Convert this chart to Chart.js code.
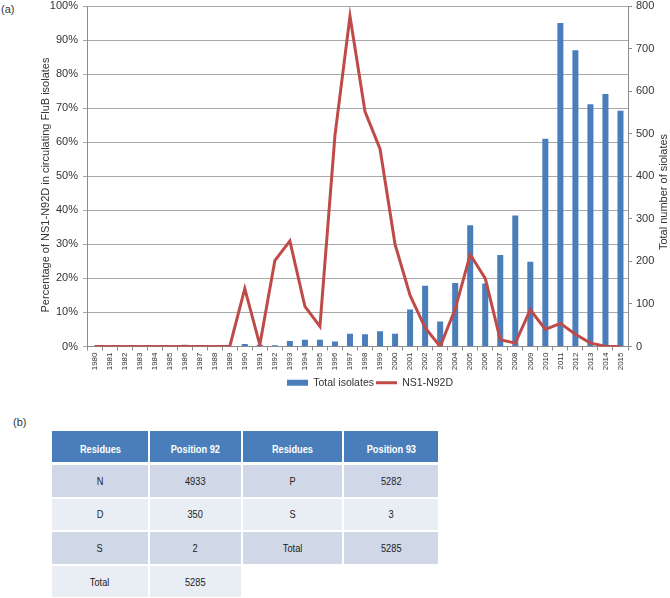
<!DOCTYPE html>
<html lang="en">
<head>
    <meta charset="UTF-8">
    <title>NS1-N92D in circulating FluB isolates</title>
    <script src="https://cdn.jsdelivr.net/npm/chart.js"></script>
    <style>
        body { margin: 0; background: #fff; font-family: "Liberation Sans", Arial, sans-serif; }
        #page { position: relative; width: 670px; height: 598px; overflow: hidden; }
        .panel-label { position: absolute; font-size: 11px; color: #333; }
        #chart-container { position: absolute; left: 0; top: 0; width: 670px; height: 398px; }
        #residueTable {
            position: absolute; left: 50px; top: 429px;
            border-collapse: separate; border-spacing: 2px;
            font-size: 11px; color: #222; text-align: center;
        }
        #residueTable th {
            background: #4a7ebb; color: #fff; font-weight: bold; height: 27px;
            padding: 4px 0 0 0; border-bottom: 1px solid #fff;
        }
        #residueTable td { height: 31.6px; padding: 0; }
        #residueTable tr.dark td.cell { background: #d0d8e8; }
        #residueTable tr.light td.cell { background: #e9edf4; }
        /* letra estrecha como en la figura original */
        #residueTable span { display: inline-block; transform: scaleX(0.84); }
    </style>
</head>
<body>
<div id="page">
    <div class="panel-label" style="left:1px; top:3px;">(a)</div>
    <div id="chart-container">
        <canvas id="fluChart"></canvas>
    </div>
    <div class="panel-label" style="left:13px; top:416px;">(b)</div>
    <table id="residueTable"></table>
</div>

<script>
    // --- datos del gráfico (a) ---
    const years = ['1980', '1981', '1982', '1983', '1984', '1985', '1986', '1987', '1988', '1989',
                   '1990', '1991', '1992', '1993', '1994', '1995', '1996', '1997', '1998', '1999',
                   '2000', '2001', '2002', '2003', '2004', '2005', '2006', '2007', '2008', '2009',
                   '2010', '2011', '2012', '2013', '2014', '2015'];
    const totalIsolates = [0, 0, 0, 0, 3, 0, 4, 3, 3, 0,
                           6, 4, 3, 13, 16, 16, 12, 30, 29, 36,
                           30, 87, 143, 59, 149, 285, 148, 215, 308, 199,
                           488, 760, 696, 569, 593, 554];
    const ns1N92D = [0, 0, 0, 0, 0, 0, 0, 0, 0, 0,
                     17, 0.5, 25.2, 31, 11.8, 5.9, 62, 97, 69, 58,
                     30, 15, 5.5, 0, 11, 27, 20, 2, 1, 10.8,
                     5, 6.8, 3.6, 1, 0.1, 0];

    // --- datos de la tabla (b) ---
    const tableHeader = ['Residues', 'Position 92', 'Residues', 'Position 93'];
    const residues92 = ['N', 'D', 'S', 'Total'];
    const counts92 = ['4933', '350', '2', '5285'];
    const residues93 = ['P', 'S', 'Total'];
    const counts93 = ['5282', '3', '5285'];
    const columnWidths = [96, 91, 99, 94];

    // construir la tabla
    const table = document.getElementById('residueTable');
    const cell = t => `<td class="cell"><span>${t}</span></td>`;
    let html = '<tr>' + tableHeader.map((h, i) => `<th style="width:${columnWidths[i]}px"><span>${h}</span></th>`).join('') + '</tr>';
    for (let r = 0; r < residues92.length; r++) {
        const cls = r % 2 === 0 ? 'dark' : 'light';
        html += `<tr class="${cls}">` + cell(residues92[r]) + cell(counts92[r]);
        if (r < residues93.length) {
            html += cell(residues93[r]) + cell(counts93[r]);
        } else {
            html += '<td></td><td></td>';
        }
        html += '</tr>';
    }
    table.innerHTML = html;

    Chart.defaults.font.family = '"Liberation Sans", Arial, sans-serif';
    Chart.defaults.color = '#333';

    const gridColor = '#a8a8a8';
    const axisColor = '#8c8c8c';

    // títulos de los ejes (ambos leídos de abajo hacia arriba) y leyenda desplazada
    const sideTitles = {
        id: 'sideTitles',
        afterLayout(chart) {
            chart.legend.left += 35;
            chart.legend.right += 35;
        },
        afterDraw(chart) {
            const c = chart.ctx;
            const titles = [
                ['Percentage of NS1-N92D in circulating FluB isolates', 46, 185],
                ['Total number of siolates', 664, 192]
            ];
            titles.forEach(([text, x, y]) => {
                c.save();
                c.font = '11px "Liberation Sans", Arial, sans-serif';
                c.fillStyle = '#333';
                c.textAlign = 'center';
                c.textBaseline = 'middle';
                c.translate(x, y);
                c.rotate(-Math.PI / 2);
                c.fillText(text, 0, 0);
                c.restore();
            });
        }
    };

    const ctx = document.getElementById('fluChart').getContext('2d');
    const fluChart = new Chart(ctx, {
        type: 'bar',
        data: {
            labels: years,
            datasets: [{
                label: 'Total isolates',
                data: totalIsolates,
                yAxisID: 'yR',
                backgroundColor: '#4a7ebb',
                borderWidth: 0,
                barPercentage: 0.4,
                categoryPercentage: 1,
                pointStyle: 'rect',
                order: 2
            }, {
                type: 'line',
                label: 'NS1-N92D',
                data: ns1N92D,
                yAxisID: 'yL',
                borderColor: '#be4b48',
                backgroundColor: '#be4b48',
                borderWidth: 3,
                pointRadius: 0,
                tension: 0,
                pointStyle: 'line',
                order: 1
            }]
        },
        options: {
            responsive: true,
            maintainAspectRatio: false,
            animation: false,
            layout: { padding: { top: 0 } },
            plugins: {
                tooltip: { enabled: false },
                legend: {
                    position: 'bottom',
                    labels: {
                        usePointStyle: true,
                        pointStyleWidth: 21,
                        boxHeight: 6,
                        padding: 2,
                        color: '#333',
                        font: { size: 10.5 },
                        sort: (a, b) => a.datasetIndex - b.datasetIndex
                    }
                }
            },
            scales: {
                x: {
                    grid: { display: true, drawOnChartArea: false, offset: true, tickLength: 4, color: axisColor },
                    border: { color: axisColor },
                    ticks: { maxRotation: 90, minRotation: 90, autoSkip: false, padding: 2, font: { size: 8 } },
                    afterFit(scale) { scale.height = 29; }
                },
                yL: {
                    position: 'left',
                    min: 0,
                    max: 100,
                    ticks: { stepSize: 10, padding: 5, font: { size: 11 }, callback: v => v + '%' },
                    grid: { color: gridColor, tickLength: 4 },
                    border: { color: axisColor },
                    afterFit(scale) { scale.width = 87; scale.paddingTop = 6; }
                },
                yR: {
                    position: 'right',
                    min: 0,
                    max: 800,
                    ticks: { stepSize: 100, padding: 4, font: { size: 11 } },
                    grid: { drawOnChartArea: false, tickLength: 4, color: axisColor },
                    border: { color: axisColor },
                    afterFit(scale) { scale.width = 42; scale.paddingTop = 6; }
                }
            }
        },
        plugins: [sideTitles]
    });
</script>
</body>
</html>
